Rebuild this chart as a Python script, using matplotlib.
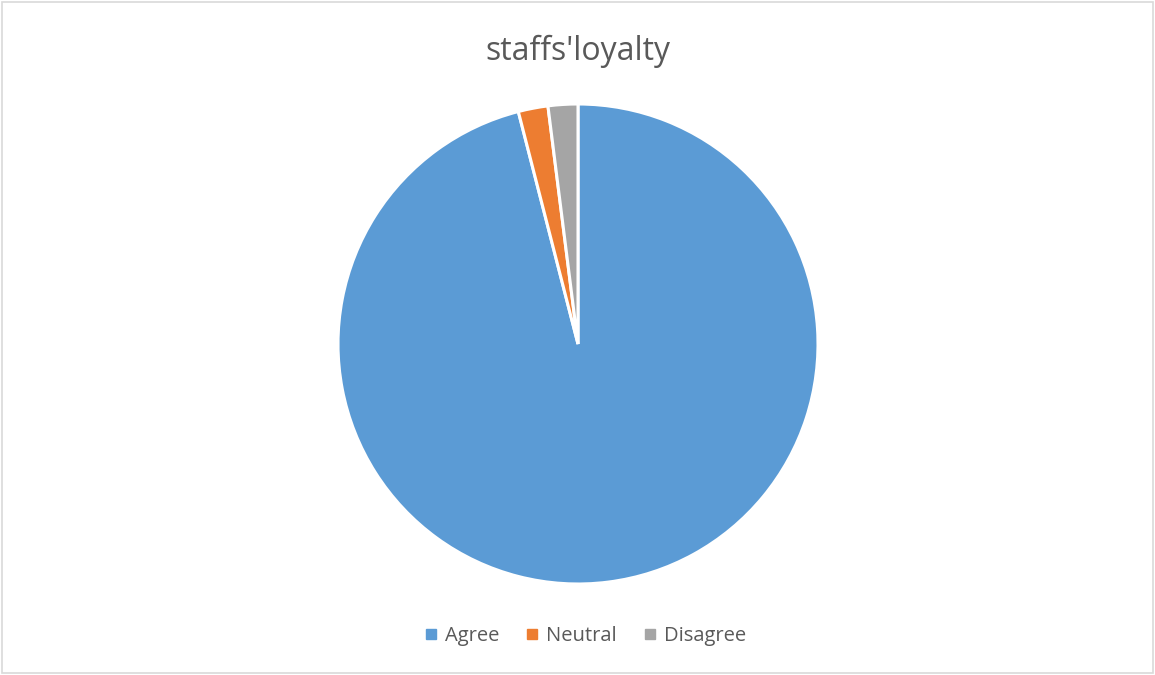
import matplotlib
matplotlib.use("Agg")
import matplotlib.pyplot as plt
from matplotlib.patches import Rectangle
from matplotlib.lines import Line2D

title = "staffs'loyalty"
categories = ["Agree", "Neutral", "Disagree"]
values = [96, 2, 2]
colors = ["#5B9BD5", "#ED7D31", "#A5A5A5"]

W, H = 1155, 675
fig = plt.figure(figsize=(W / 100, H / 100), dpi=100)
fig.patch.set_facecolor("white")

# light frame around the chart area
fig.add_artist(Rectangle((2 / W, 2 / H), (W - 4) / W, (H - 4) / H,
                         transform=fig.transFigure, fill=False,
                         edgecolor="#D9D9D9", linewidth=1.2))

cx, cy, r = 578, 344, 240
ax = fig.add_axes([(cx - r) / W, (H - cy - r) / H, 2 * r / W, 2 * r / H])
ax.pie(values, colors=colors, startangle=90, counterclock=False,
       radius=1.0,
       wedgeprops=dict(edgecolor="white", linewidth=2.2))
ax.set_xlim(-1.0, 1.0)
ax.set_ylim(-1.0, 1.0)
ax.set_aspect("auto")
ax.axis("off")

fig.text(cx / W, 1 - 51 / H, title, ha="center", va="center",
         fontsize=23, color="#595959", family=["Open Sans", "DejaVu Sans"])

handles = [Line2D([0], [0], marker="s", linestyle="none", markersize=7,
                  markerfacecolor=c, markeredgecolor=c) for c in colors]
fig.legend(handles, categories, loc="center", ncol=3, frameon=False,
           bbox_to_anchor=(585 / W, 1 - 636 / H),
           prop=dict(family=["Open Sans", "DejaVu Sans"], size=14.5),
           labelcolor="#595959", handlelength=0.7, handletextpad=0.35,
           columnspacing=1.3)

fig.savefig("out.png", dpi=100, facecolor="white")
